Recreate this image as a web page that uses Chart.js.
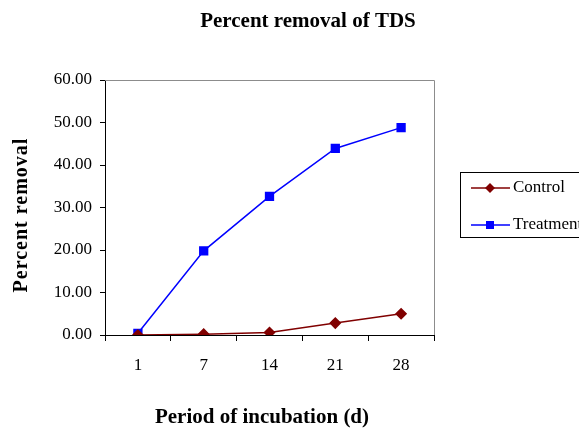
<!DOCTYPE html>
<html>
<head>
<meta charset="utf-8">
<script src="https://cdn.jsdelivr.net/npm/chart.js@4"></script>
<style>
  html, body { margin: 0; padding: 0; background: #fff; }
  #wrap { width: 579px; height: 428px; }
</style>
</head>
<body>
<div id="wrap"><canvas id="chart" width="579" height="428"></canvas></div>
<script>
const days = ["1", "7", "14", "21", "28"];
const controlValues = [0.0, 0.2, 0.6, 2.8, 5.0];
const treatmentValues = [0.4, 19.8, 32.6, 43.9, 48.8];
const yTicks = [0, 10, 20, 30, 40, 50, 60];

const SERIF = "'Liberation Serif', 'Times New Roman', serif";

// titles, frame and the boxed legend
const decor = {
  id: "decor",
  beforeDatasetsDraw(chart) {
    const { ctx, chartArea: a } = chart;
    ctx.save();
    ctx.strokeStyle = "#8c8c8c";
    ctx.lineWidth = 1;
    ctx.beginPath();
    ctx.moveTo(a.left, a.top + 0.5);
    ctx.lineTo(a.right + 0.5, a.top + 0.5);
    ctx.lineTo(a.right + 0.5, a.bottom);
    ctx.stroke();
    ctx.restore();
  },
  afterDraw(chart) {
    const { ctx } = chart;
    ctx.save();
    ctx.fillStyle = "#000";
    ctx.textAlign = "center";
    ctx.textBaseline = "middle";
    ctx.font = "bold 21px " + SERIF;
    ctx.fillText("Percent removal of TDS", 308, 22);
    ctx.fillText("Period of incubation (d)", 262, 418);
    ctx.save();
    ctx.translate(22, 215);
    ctx.rotate(-Math.PI / 2);
    ctx.font = "bold 20px " + SERIF;
    ctx.letterSpacing = "1px";
    ctx.fillText("Percent removal", 0, 0);
    ctx.restore();

    // legend
    ctx.strokeStyle = "#000";
    ctx.lineWidth = 1;
    ctx.strokeRect(460.5, 172.5, 130, 65);
    ctx.font = "17px " + SERIF;
    ctx.textAlign = "left";
    chart.data.datasets.forEach((ds, i) => {
      const y = 188 + i * 37;
      ctx.strokeStyle = ds.borderColor;
      ctx.lineWidth = 1.5;
      ctx.beginPath();
      ctx.moveTo(471, y);
      ctx.lineTo(510, y);
      ctx.stroke();
      ctx.fillStyle = ds.pointBackgroundColor;
      const r = 4;
      if (ds.pointStyle === "rectRot") {
        ctx.beginPath();
        ctx.moveTo(490, y - 5);
        ctx.lineTo(495, y);
        ctx.lineTo(490, y + 5);
        ctx.lineTo(485, y);
        ctx.closePath();
        ctx.fill();
      } else {
        ctx.fillRect(490 - r, y - r, r * 2, r * 2);
      }
      ctx.fillStyle = "#000";
      ctx.fillText(ds.label, 513, y);
    });
    ctx.restore();
  }
};

new Chart(document.getElementById("chart"), {
  type: "line",
  data: {
    labels: days,
    datasets: [
      {
        label: "Control",
        data: controlValues,
        borderColor: "#800000",
        backgroundColor: "#800000",
        pointBackgroundColor: "#800000",
        pointBorderColor: "#800000",
        pointStyle: "rectRot",
        pointRadius: 5,
        borderWidth: 1.5,
        tension: 0
      },
      {
        label: "Treatment",
        data: treatmentValues,
        borderColor: "#0000ff",
        backgroundColor: "#0000ff",
        pointBackgroundColor: "#0000ff",
        pointBorderColor: "#0000ff",
        pointStyle: "rect",
        pointRadius: 5.5,
        borderWidth: 1.5,
        tension: 0
      }
    ]
  },
  options: {
    responsive: false,
    animation: false,
    devicePixelRatio: 1,
    layout: { padding: { top: 80, right: 145, bottom: 0, left: 0 } },
    plugins: {
      legend: { display: false },
      title: { display: false },
      tooltip: { enabled: false }
    },
    scales: {
      x: {
        type: "category",
        offset: true,
        afterFit(s) { s.height = 93; },
        grid: {
          offset: true,
          drawOnChartArea: false,
          drawTicks: true,
          tickLength: 6,
          color: "#000"
        },
        border: { color: "#000", width: 1 },
        ticks: {
          color: "#000",
          padding: 14,
          font: { family: SERIF, size: 17 },
          maxRotation: 0
        }
      },
      y: {
        min: 0,
        max: 60,
        afterFit(s) { s.width = 105; },
        afterBuildTicks(s) { s.ticks = yTicks.map(v => ({ value: v })); },
        grid: {
          drawOnChartArea: false,
          drawTicks: true,
          tickLength: 5,
          color: "#000"
        },
        border: { color: "#000", width: 1 },
        ticks: {
          color: "#000",
          padding: 8,
          font: { family: SERIF, size: 17 },
          callback: v => v.toFixed(2)
        }
      }
    }
  },
  plugins: [decor]
});
</script>
</body>
</html>
